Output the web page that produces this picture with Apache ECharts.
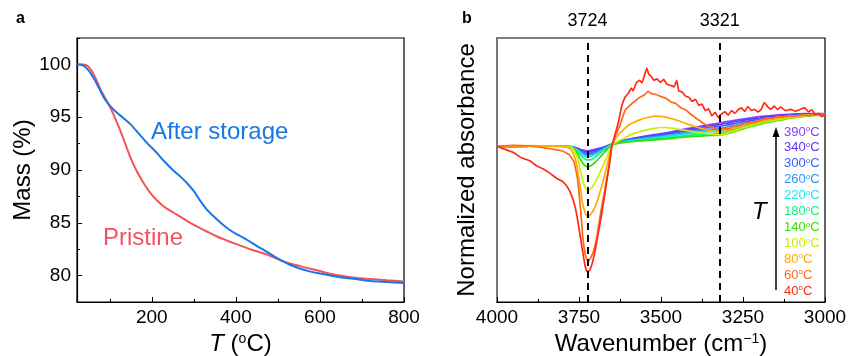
<!DOCTYPE html>
<html><head><meta charset="utf-8">
<script src="https://cdn.jsdelivr.net/npm/echarts@6/dist/echarts.min.js"></script>
<style>html,body{margin:0;padding:0;background:#fff}#c{width:848px;height:356px}</style>
</head><body><div id="c"></div>
<script>
const FONT = 'Liberation Sans, Arial, sans-serif';

// ---- Panel a (TGA) ----
const tgaTicks = [200, 400, 600, 800];
const tgaMinorTicks = [100, 300, 500, 700];
const massTicks = [80, 85, 90, 95, 100];
const massMinorTicks = [77.5, 82.5, 87.5, 92.5, 97.5, 102.5];
const afterStorage = [[23,100.0],[30,100.0],[40,99.8],[50,99.4],[60,98.8],[70,98.1],[80,97.3],[90,96.6],[100,96.1],[115,95.5],[130,95.0],[150,94.3],[170,93.4],[190,92.5],[210,91.7],[230,90.8],[250,90.0],[270,89.3],[285,88.7],[300,88.0],[315,87.1],[330,86.3],[350,85.5],[370,84.8],[390,84.2],[410,83.75],[430,83.3],[450,82.8],[470,82.35],[490,81.85],[510,81.4],[530,81.0],[550,80.7],[575,80.4],[600,80.2],[640,79.9],[680,79.7],[720,79.5],[760,79.4],[800,79.3]];
const pristine = [[23,100.0],[35,100.0],[45,99.9],[55,99.5],[65,98.8],[75,97.9],[85,97.1],[95,96.4],[105,95.6],[117,94.5],[133,92.9],[148,91.3],[164,89.9],[180,88.8],[195,87.9],[210,87.2],[230,86.5],[250,86.0],[275,85.4],[300,84.8],[330,84.2],[355,83.7],[380,83.3],[400,83.0],[434,82.5],[474,82.0],[513,81.35],[553,80.9],[593,80.5],[633,80.1],[672,79.85],[712,79.7],[760,79.55],[800,79.45]];

// ---- Panel b (IR spectra) ----
const temps = ['390','340','300','260','220','180','140','100','80','60','40'];
const tempColors = ['#8a3cff','#6435ff','#3d5bff','#2894ff','#19e3f0','#16ee80','#33e000','#c8ee00','#ffaa00','#ff6a1a','#ff2a14'];
const markers = [3724, 3321];
const s390 = [[4000,58.9],[3900,59.0],[3800,59.0],[3770,58.8],[3755,58.3],[3740,57.6],[3726,57.3],[3712,57.5],[3695,58.0],[3675,58.7],[3650,59.8],[3600,61.6],[3560,62.6],[3520,63.4],[3480,64.2],[3440,65.2],[3400,66.1],[3360,67.0],[3323,67.8],[3300,68.3],[3275,68.8],[3250,69.3],[3225,69.8],[3200,70.2],[3175,70.5],[3150,70.8],[3125,71.0],[3100,71.2],[3075,71.3],[3050,71.4],[3000,71.4]];
const s340 = [[4000,58.9],[3900,59.0],[3800,59.0],[3770,58.8],[3755,58.1],[3740,57.3],[3726,56.9],[3712,57.1],[3695,57.7],[3675,58.5],[3650,59.7],[3600,61.5],[3560,62.4],[3520,63.2],[3480,63.9],[3440,64.8],[3400,65.7],[3360,66.5],[3323,67.2],[3300,67.7],[3275,68.3],[3250,68.8],[3225,69.3],[3200,69.7],[3175,70.1],[3150,70.4],[3125,70.7],[3100,70.9],[3075,71.1],[3050,71.2],[3000,71.3]];
const s300 = [[4000,58.9],[3900,59.0],[3800,59.0],[3770,58.8],[3755,57.9],[3740,56.9],[3726,56.3],[3712,56.5],[3695,57.3],[3675,58.3],[3650,59.7],[3600,61.3],[3560,62.1],[3520,62.9],[3480,63.6],[3440,64.4],[3400,65.2],[3360,65.9],[3323,66.5],[3300,67.0],[3275,67.6],[3250,68.2],[3225,68.7],[3200,69.2],[3175,69.6],[3150,70.0],[3125,70.4],[3100,70.7],[3075,70.9],[3050,71.1],[3000,71.2]];
const s260 = [[4000,58.9],[3900,59.0],[3800,59.0],[3770,58.8],[3755,57.8],[3740,56.5],[3726,55.7],[3712,55.9],[3695,56.8],[3675,58.1],[3650,59.6],[3600,61.2],[3560,61.9],[3520,62.6],[3480,63.2],[3440,63.9],[3400,64.6],[3360,65.2],[3323,65.7],[3300,66.2],[3275,66.9],[3250,67.5],[3225,68.1],[3200,68.7],[3175,69.2],[3150,69.6],[3125,70.0],[3100,70.4],[3075,70.7],[3050,70.9],[3000,71.1]];
const s220 = [[4000,58.9],[3900,59.0],[3800,59.0],[3770,58.7],[3755,57.6],[3740,56.0],[3726,55.0],[3712,55.2],[3695,56.3],[3675,57.8],[3650,59.6],[3600,61.0],[3560,61.6],[3520,62.2],[3480,62.8],[3440,63.4],[3400,64.0],[3360,64.5],[3323,64.9],[3300,65.4],[3275,66.1],[3250,66.8],[3225,67.5],[3200,68.1],[3175,68.7],[3150,69.2],[3125,69.7],[3100,70.1],[3075,70.5],[3050,70.8],[3000,71.0]];
const s180 = [[4000,58.9],[3900,59.0],[3800,59.0],[3770,58.6],[3755,57.0],[3740,55.0],[3726,53.8],[3712,54.0],[3695,55.4],[3675,57.4],[3650,59.5],[3600,60.8],[3560,61.3],[3520,61.8],[3480,62.3],[3440,62.8],[3400,63.3],[3360,63.7],[3323,64.0],[3300,64.5],[3275,65.3],[3250,66.1],[3225,66.9],[3200,67.6],[3175,68.3],[3150,68.9],[3125,69.4],[3100,69.9],[3075,70.3],[3050,70.6],[3000,71.0]];
const s140 = [[4000,58.9],[3900,59.0],[3800,59.0],[3770,58.5],[3758,57.0],[3748,54.5],[3738,52.5],[3726,51.3],[3714,51.6],[3700,53.0],[3685,55.0],[3670,57.0],[3650,59.5],[3600,60.6],[3560,61.0],[3520,61.4],[3480,61.8],[3440,62.3],[3400,62.7],[3360,63.0],[3323,63.2],[3300,63.7],[3275,64.6],[3250,65.6],[3225,66.5],[3200,67.3],[3175,68.0],[3150,68.6],[3125,69.2],[3100,69.7],[3075,70.1],[3050,70.5],[3000,71.0]];
const s100 = [[4000,58.9],[3900,59.1],[3800,59.0],[3775,58.6],[3765,57.5],[3755,54.5],[3745,49.5],[3735,44.5],[3724,42.4],[3713,43.0],[3700,45.5],[3690,48.0],[3675,52.0],[3660,56.3],[3650,59.3],[3630,61.0],[3610,62.2],[3590,63.5],[3570,64.3],[3550,65.0],[3530,65.6],[3510,66.0],[3490,66.1],[3470,65.9],[3450,65.5],[3420,64.9],[3390,64.3],[3360,63.8],[3323,63.4],[3300,63.9],[3275,64.9],[3250,65.9],[3225,66.8],[3200,67.6],[3175,68.3],[3150,68.9],[3125,69.4],[3100,69.9],[3075,70.3],[3050,70.6],[3000,71.0]];
const s80 = [[4000,58.9],[3900,59.2],[3800,58.8],[3780,58.2],[3768,56.5],[3758,52.5],[3748,45.0],[3740,38.0],[3732,34.0],[3724,32.3],[3716,33.0],[3705,35.0],[3695,38.0],[3685,42.0],[3675,46.5],[3665,51.5],[3655,56.5],[3650,59.2],[3640,61.5],[3625,64.0],[3610,65.8],[3595,67.3],[3580,68.2],[3565,69.0],[3550,69.6],[3535,70.0],[3520,70.4],[3505,70.3],[3490,70.1],[3470,69.5],[3450,68.8],[3430,67.9],[3410,67.0],[3390,66.2],[3370,65.6],[3350,65.0],[3323,64.3],[3300,64.9],[3275,65.8],[3250,66.8],[3225,67.6],[3200,68.3],[3175,68.9],[3150,69.5],[3125,69.9],[3100,70.3],[3075,70.6],[3050,70.8],[3000,71.0]];
const s60 = [[4000,58.9],[3950,59.3],[3900,59.0],[3850,58.3],[3800,57.2],[3780,55.8],[3765,53.0],[3755,47.0],[3745,35.0],[3738,24.0],[3730,17.5],[3723,15.3],[3715,16.5],[3705,19.5],[3695,25.0],[3685,33.0],[3675,40.0],[3665,47.0],[3655,54.0],[3650,59.3],[3640,62.5],[3625,67.0],[3610,72.5],[3595,74.5],[3580,76.0],[3565,77.5],[3550,78.5],[3540,79.8],[3530,79.0],[3515,78.6],[3500,77.8],[3485,77.2],[3470,75.8],[3455,75.2],[3440,73.6],[3425,72.8],[3410,71.2],[3395,69.8],[3380,68.5],[3365,67.2],[3350,66.3],[3335,65.8],[3323,65.0],[3310,65.8],[3295,65.6],[3280,66.6],[3265,66.8],[3250,67.5],[3235,67.8],[3220,68.0],[3205,68.6],[3190,69.2],[3175,69.8],[3160,69.5],[3145,70.3],[3130,70.1],[3110,70.6],[3090,70.4],[3070,70.9],[3050,70.6],[3030,71.0],[3000,71.0]];
const s40 = [[4000,58.9],[3975,57.8],[3950,56.6],[3925,54.6],[3900,53.5],[3880,51.6],[3860,50.5],[3840,48.9],[3820,47.0],[3800,45.6],[3785,43.5],[3770,39.5],[3760,35.0],[3750,28.0],[3740,20.0],[3732,14.0],[3725,11.4],[3718,12.0],[3710,14.5],[3700,20.0],[3690,27.0],[3680,34.0],[3670,42.0],[3660,50.0],[3650,59.0],[3640,63.5],[3630,68.0],[3620,74.0],[3610,77.5],[3600,79.0],[3590,81.0],[3585,80.0],[3575,83.0],[3565,84.0],[3558,83.0],[3550,86.0],[3543,88.6],[3538,86.5],[3530,85.5],[3522,84.0],[3512,84.5],[3502,83.2],[3492,84.3],[3482,82.5],[3470,82.0],[3460,81.5],[3452,84.0],[3446,80.0],[3435,79.5],[3425,78.0],[3415,77.5],[3405,76.0],[3395,76.8],[3385,74.5],[3375,75.0],[3365,72.5],[3355,73.2],[3345,70.5],[3335,71.8],[3325,69.8],[3318,71.0],[3305,72.0],[3295,70.8],[3285,72.5],[3275,71.5],[3265,72.8],[3255,73.5],[3245,72.2],[3235,74.0],[3225,72.6],[3215,73.0],[3205,72.0],[3195,72.8],[3185,75.5],[3175,74.0],[3165,73.0],[3155,74.2],[3145,72.9],[3135,73.8],[3120,72.5],[3105,73.0],[3090,72.2],[3075,73.0],[3062,73.5],[3050,72.0],[3040,72.8],[3030,71.0],[3020,71.5],[3010,70.2],[3000,70.8]];
const spectraList = [s390, s340, s300, s260, s220, s180, s140, s100, s80, s60, s40];

const chart = echarts.init(document.getElementById('c'), null, {renderer: 'canvas'});
const axisLine = {show: true, lineStyle: {color: '#000', width: 1.2}};
const lbl = {color: '#000', fontSize: 19, fontFamily: FONT, formatter: v => String(v)};
const nameStyle = {color: '#000', fontSize: 24, fontFamily: FONT};

const grids = [
  {left: 77, right: 444, top: 38, bottom: 54, show: true, borderColor: '#000', borderWidth: 1.2, backgroundColor: 'transparent', containLabel: false, outerBoundsMode: 'none'},
  {left: 497, right: 23, top: 38, bottom: 54, show: true, borderColor: '#000', borderWidth: 1.2, backgroundColor: 'transparent', containLabel: false, outerBoundsMode: 'none'}
];

const xAxes = [
  {type: 'value', gridIndex: 0, position: 'bottom', min: 22, max: 800, axisLine,
   axisTick: {inside: true, length: 5, customValues: tgaTicks, lineStyle: {color: '#000'}},
   axisLabel: Object.assign({customValues: tgaTicks, margin: 6}, lbl), splitLine: {show: false},
   name: '{i|T} ({s|o}C)', nameLocation: 'middle', nameGap: 29,
   nameTextStyle: Object.assign({rich: {i: {fontStyle: 'italic', fontSize: 24, fontFamily: FONT}, s: {fontSize: 14, verticalAlign: 'top', lineHeight: 24, fontFamily: FONT}}}, nameStyle)},
  {type: 'value', gridIndex: 0, position: 'bottom', min: 22, max: 800, axisLine: {show: false},
   axisTick: {inside: true, length: 3, customValues: tgaMinorTicks, lineStyle: {color: '#000'}},
   axisLabel: {show: false}, splitLine: {show: false}},
  {type: 'value', gridIndex: 1, position: 'bottom', min: 3000, max: 4000, interval: 250, inverse: true, axisLine,
   axisTick: {inside: true, length: 5, lineStyle: {color: '#000'}},
   minorTick: {show: true, splitNumber: 2, length: 3, lineStyle: {color: '#000'}},
   axisLabel: Object.assign({margin: 6}, lbl), splitLine: {show: false}, minorSplitLine: {show: false},
   name: 'Wavenumber (cm{s|−1})', nameLocation: 'middle', nameGap: 29,
   nameTextStyle: Object.assign({rich: {s: {fontSize: 14, verticalAlign: 'top', lineHeight: 24, fontFamily: FONT}}}, nameStyle)}
];
const yAxes = [
  {type: 'value', gridIndex: 0, position: 'left', min: 77.5, max: 102.5, axisLine,
   axisTick: {inside: true, length: 5, customValues: massTicks, lineStyle: {color: '#000'}},
   axisLabel: Object.assign({customValues: massTicks, margin: 6}, lbl), splitLine: {show: false},
   name: 'Mass (%)', nameLocation: 'middle', nameGap: 39, nameTextStyle: nameStyle},
  {type: 'value', gridIndex: 0, position: 'left', min: 77.5, max: 102.5, axisLine: {show: false},
   axisTick: {inside: true, length: 3, customValues: massMinorTicks, lineStyle: {color: '#000'}},
   axisLabel: {show: false}, splitLine: {show: false}},
  {type: 'value', gridIndex: 1, position: 'left', min: 0, max: 100,
   axisLine: {show: true, lineStyle: {color: '#777', width: 2}},
   axisTick: {show: false}, axisLabel: {show: false}, splitLine: {show: false},
   name: 'Normalized absorbance', nameLocation: 'middle', nameGap: 18, nameTextStyle: nameStyle}
];

const series = [
  {type: 'line', name: 'After storage', xAxisIndex: 0, yAxisIndex: 0, data: afterStorage, showSymbol: false, smooth: 0.3,
   lineStyle: {color: '#1877e6', width: 2}, itemStyle: {color: '#1877e6'}, z: 3},
  {type: 'line', name: 'Pristine', xAxisIndex: 0, yAxisIndex: 0, data: pristine, showSymbol: false, smooth: 0.3,
   lineStyle: {color: '#f2545b', width: 2}, itemStyle: {color: '#f2545b'}, z: 2}
];
spectraList.forEach((d, i) => {
  series.push({type: 'line', name: temps[i] + '°C', xAxisIndex: 2, yAxisIndex: 2, data: d, showSymbol: false,
    smooth: i < 9 ? 0.3 : 0.1, lineStyle: {color: tempColors[i], width: 1.7}, itemStyle: {color: tempColors[i]}, z: 2 + i * 0.1});
});
series.push({type: 'line', xAxisIndex: 2, yAxisIndex: 2, data: [], z: 10, silent: true,
  markLine: {silent: true, symbol: ['none', 'none'], animation: false,
    lineStyle: {color: '#000', type: [7, 5], width: 2},
    label: {show: true, position: 'end', distance: 8, formatter: p => String(p.value), color: '#000', fontSize: 18, fontFamily: FONT},
    data: markers.map(v => ({xAxis: v}))}});

const graphic = [
  {type: 'text', left: 16, top: 11, style: {text: 'a', font: 'bold 16px ' + FONT, fill: '#000'}},
  {type: 'text', left: 462, top: 11, style: {text: 'b', font: 'bold 16px ' + FONT, fill: '#000'}},
  {type: 'text', x: 151, y: 132, style: {text: 'After storage', font: '24px ' + FONT, fill: '#1877e6', verticalAlign: 'middle'}},
  {type: 'text', x: 103, y: 238, style: {text: 'Pristine', font: '24px ' + FONT, fill: '#f2545b', verticalAlign: 'middle'}},
  {type: 'line', shape: {x1: 776, y1: 290, x2: 776, y2: 135}, style: {stroke: '#000', lineWidth: 1.5}},
  {type: 'polygon', shape: {points: [[776, 127], [772.5, 137], [779.5, 137]]}, style: {fill: '#000'}},
  {type: 'text', x: 752, y: 212, style: {text: 'T', font: 'italic 24px ' + FONT, fill: '#000', verticalAlign: 'middle'}}
];
temps.forEach((t, i) => {
  graphic.push({type: 'text', x: 784, y: 132 + i * 15.9, style: {
    text: '{a|' + t + '}{s|o}{a|C}', verticalAlign: 'middle',
    rich: {a: {fontSize: 13, fontFamily: FONT, fill: tempColors[i], lineHeight: 14}, s: {fontSize: 8, fontFamily: FONT, fill: tempColors[i], verticalAlign: 'top', lineHeight: 14}}
  }});
});

chart.setOption({
  animation: false,
  textStyle: {fontFamily: FONT},
  grid: grids, xAxis: xAxes, yAxis: yAxes, series, graphic
});
</script></body></html>
